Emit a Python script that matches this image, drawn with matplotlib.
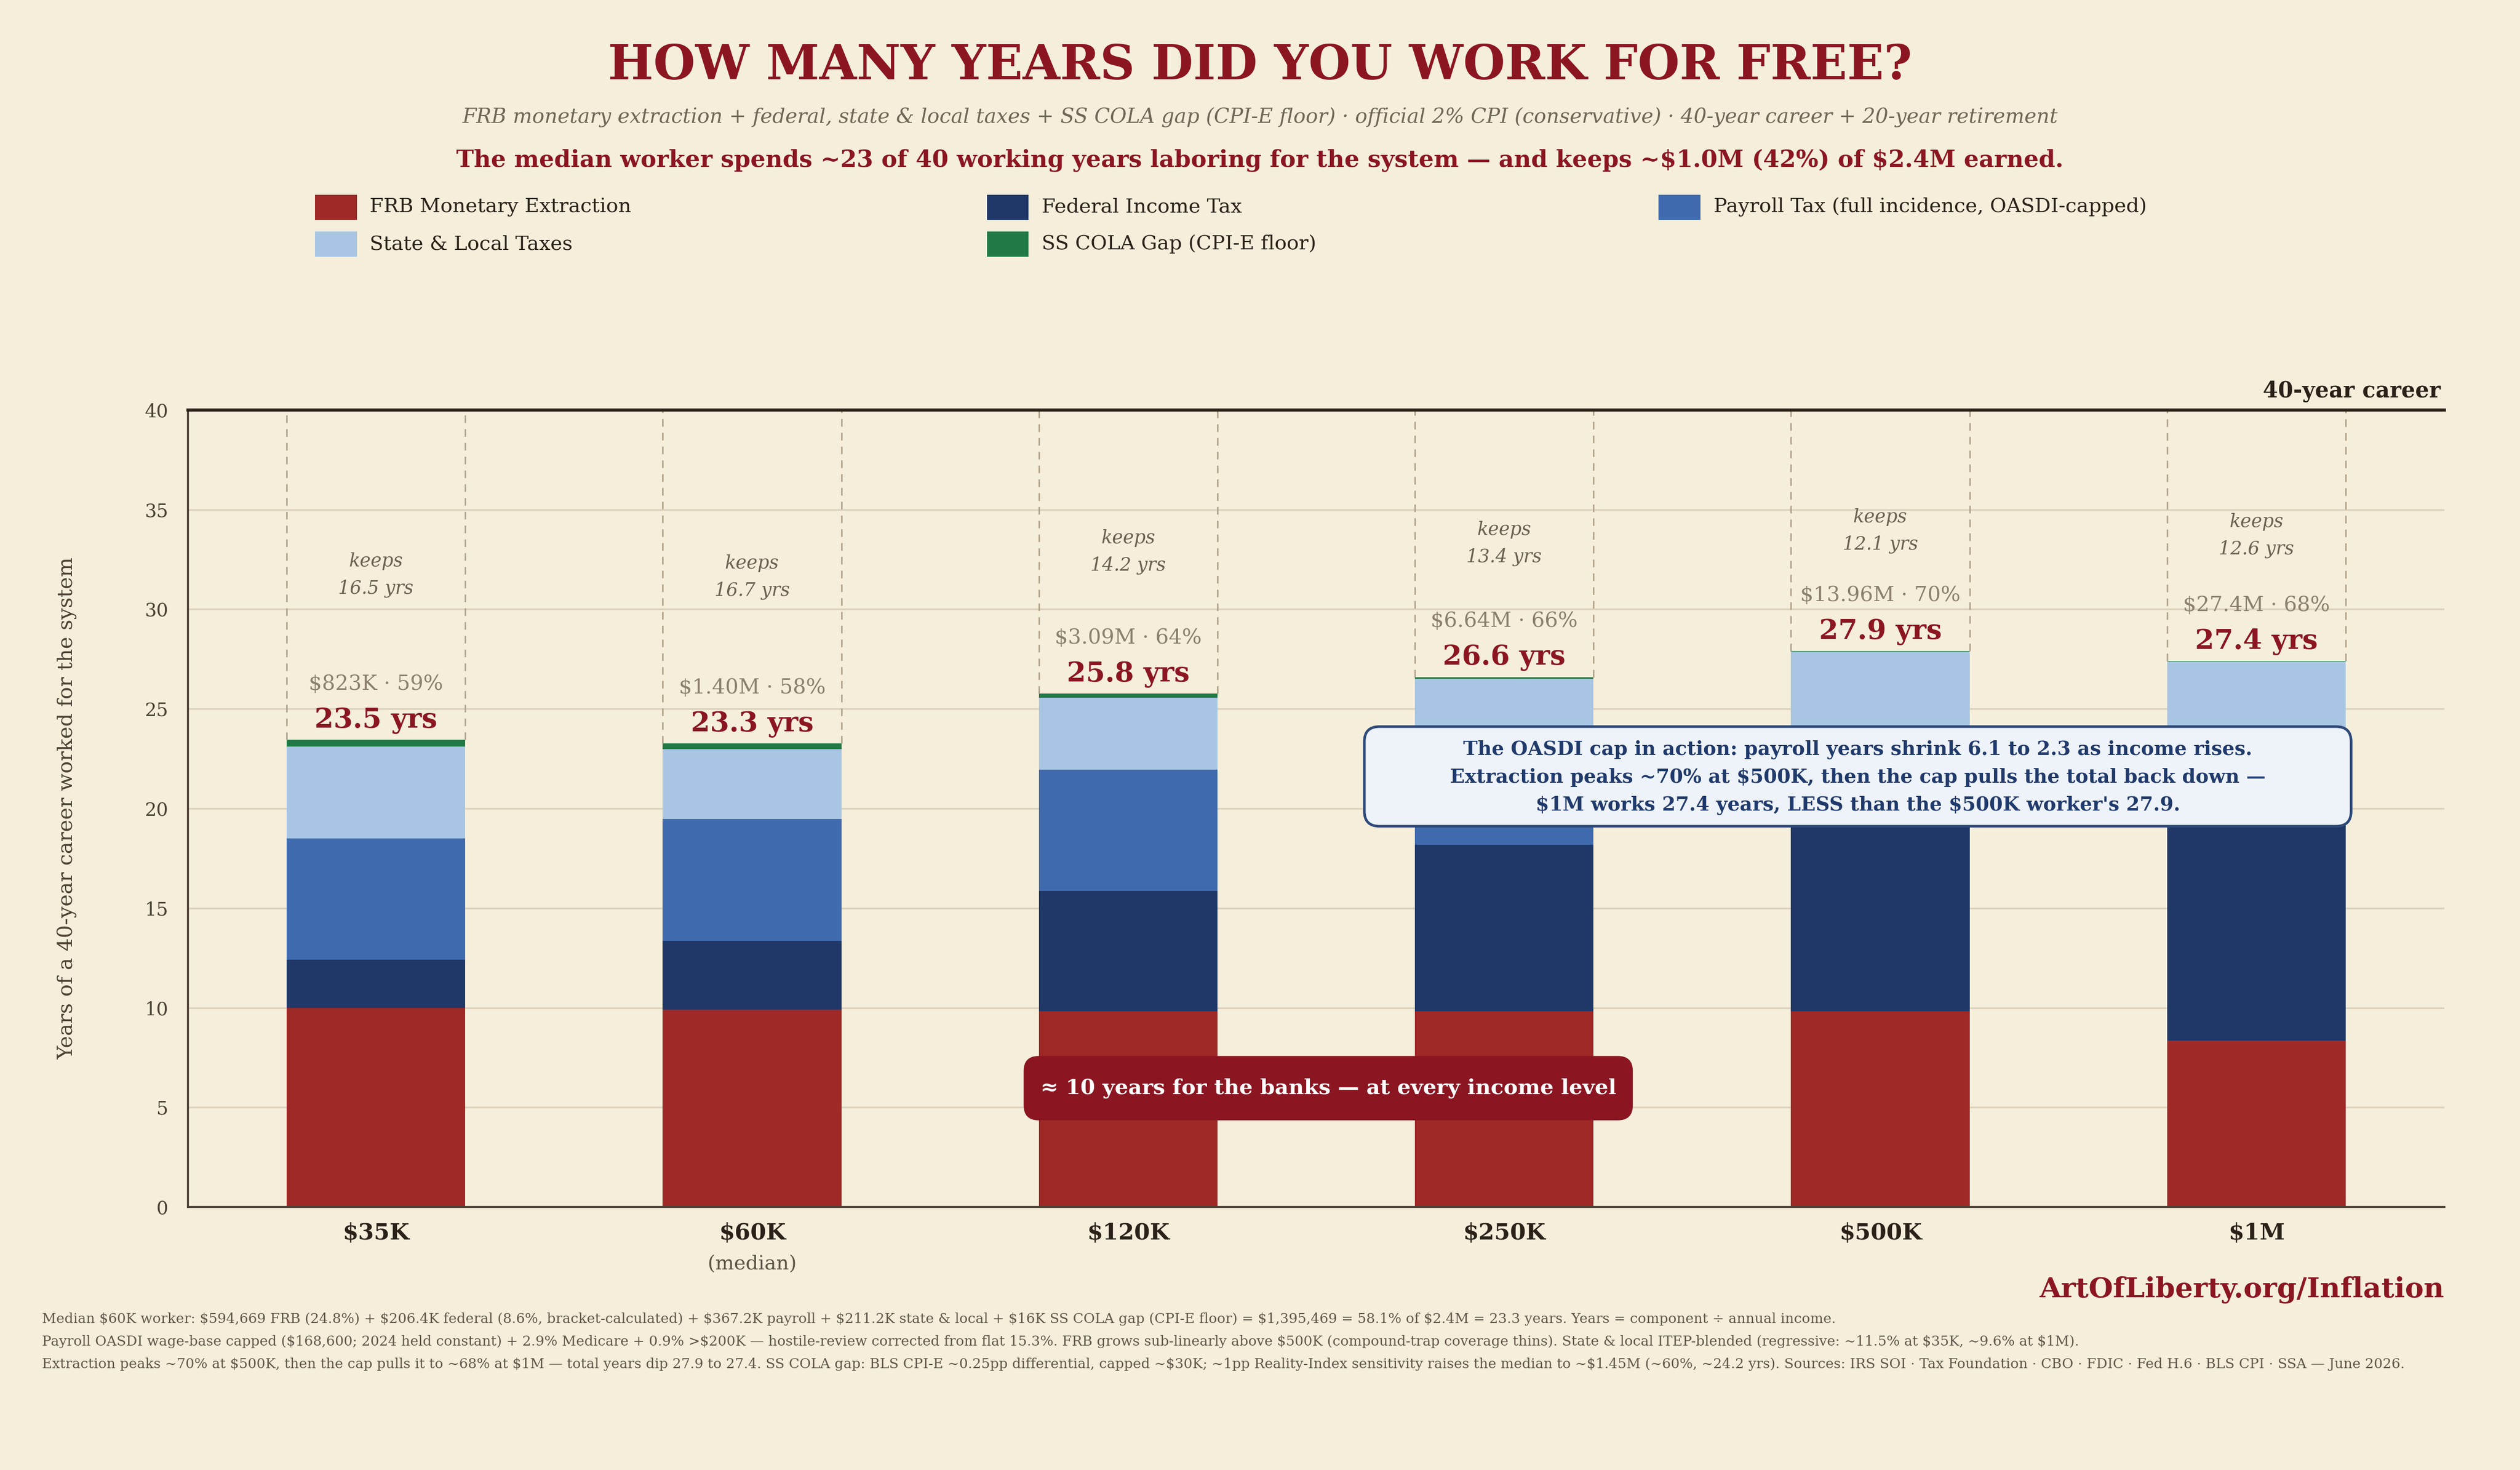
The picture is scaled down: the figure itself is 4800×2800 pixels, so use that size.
import matplotlib
matplotlib.use('Agg')
import matplotlib.pyplot as plt
from matplotlib.patches import FancyBboxPatch, Rectangle
import numpy as np

plt.rcParams['font.family'] = ['DejaVu Serif']
plt.rcParams['text.parse_math'] = False  # 文本里有很多 $ 符号

# 数据：每个收入档位的各项"年数"
incomes = ['$35K', '$60K', '$120K', '$250K', '$500K', '$1M']
frb = [10.00, 9.91, 9.83, 9.83, 9.83, 8.36]
federal = [2.40, 3.44, 6.03, 8.36, 11.10, 12.90]
payroll = [6.10, 6.12, 6.10, 4.58, 3.05, 2.28]
state_local = [4.60, 3.52, 3.60, 3.75, 3.89, 3.84]
cola_gap = [0.35, 0.27, 0.20, 0.08, 0.03, 0.02]
total_years = [23.5, 23.3, 25.8, 26.6, 27.9, 27.4]
keeps_years = [16.5, 16.7, 14.2, 13.4, 12.1, 12.6]
extracted = ['$823K · 59%', '$1.40M · 58%', '$3.09M · 64%', '$6.64M · 66%',
             '$13.96M · 70%', '$27.4M · 68%']

series_names = ['FRB Monetary Extraction', 'Federal Income Tax',
                'Payroll Tax (full incidence, OASDI-capped)', 'State & Local Taxes',
                'SS COLA Gap (CPI-E floor)']
colors = ['#9e2927', '#1f3868', '#3f6bae', '#a8c6e3', '#217a46']

bg = '#f5eedb'
dark_red = '#8b1622'
ink = '#2a2118'

fig = plt.figure(figsize=(16, 28 / 3), dpi=300, facecolor=bg)
ax = fig.add_axes([0.0746, 0.1789, 0.8954, 0.5422], facecolor=bg)

x = np.arange(len(incomes))
width = 0.475
bottom = np.zeros(len(incomes))
for vals, color in zip([frb, federal, payroll, state_local, cola_gap], colors):
    ax.bar(x, vals, width, bottom=bottom, color=color, linewidth=0, zorder=2)
    bottom = bottom + np.array(vals)

ax.set_xlim(-0.5, 5.5)
ax.set_ylim(0, 40)
ax.set_yticks(range(0, 41, 5))
ax.grid(axis='y', color='#ddd3bc', linewidth=0.8, zorder=0)
ax.set_axisbelow(True)
ax.tick_params(axis='y', length=0, pad=9, labelsize=8.5, labelcolor='#4a4033')
ax.set_xticks(x)
ax.set_xticklabels(incomes, fontsize=10.4, fontweight='bold', color=ink)
ax.tick_params(axis='x', length=0, pad=7)
for s in ['top', 'right']:
    ax.spines[s].set_visible(False)
for s in ['left', 'bottom']:
    ax.spines[s].set_color('#4a4033')
    ax.spines[s].set_linewidth(0.9)
ax.axhline(40, color=ink, linewidth=1.4, zorder=5, clip_on=False)
ax.text(5.49, 40.4, '40-year career', ha='right', va='bottom', fontsize=10,
        fontweight='bold', color=ink)
ax.text(1, -0.072, '(median)', transform=ax.get_xaxis_transform(), ha='center',
        va='center', fontsize=9, color='#5e5446')
fig.text(0.0268, 0.4503, 'Years of a 40-year career worked for the system', rotation=90,
         ha='center', va='center', fontsize=9.4, color='#4a4033')

# 柱顶标注
for i in range(len(incomes)):
    top = bottom[i]
    ax.vlines([x[i] - width / 2, x[i] + width / 2], top, 40, colors='#b3a68c',
              linestyles=(0, (5, 4)), linewidth=0.7, zorder=3)
    ax.text(x[i], top + 0.3, f'{total_years[i]:.1f} yrs', ha='center', va='bottom',
            fontsize=12.6, fontweight='bold', color=dark_red, zorder=4)
    ax.text(x[i], top + 2.3, extracted[i], ha='center', va='bottom', fontsize=9.5,
            color='#8a7f6d', zorder=4)
    ax.text(x[i], (top + 40) / 2, f'keeps\n{keeps_years[i]:.1f} yrs', ha='center',
            va='center', fontsize=8.4, style='italic', color='#6b6152', linespacing=1.65,
            zorder=4)

# 圆角注释框（按像素比例修正圆角）
px_x = fig.get_figwidth() * fig.dpi * ax.get_position().width / 6
px_y = fig.get_figheight() * fig.dpi * ax.get_position().height / 40
aspect = px_x / px_y

box1 = FancyBboxPatch((2.628, 19.11), 5.252 - 2.628, 24.11 - 19.11,
                      boxstyle='round,pad=0,rounding_size=0.04', mutation_aspect=aspect,
                      facecolor='#eef2f9', edgecolor='#2e4a7a', linewidth=1.2, zorder=6)
ax.add_patch(box1)
ax.text(3.94, 21.55,
        'The OASDI cap in action: payroll years shrink 6.1 to 2.3 as income rises.\n'
        'Extraction peaks ~70% at $500K, then the cap pulls the total back down —\n'
        "$1M works 27.4 years, LESS than the $500K worker's 27.9.",
        ha='center', va='center', fontsize=8.9, fontweight='bold', color='#1f3a6b',
        linespacing=1.6, zorder=7)

box2 = FancyBboxPatch((1.722, 4.35), 3.342 - 1.722, 7.58 - 4.35,
                      boxstyle='round,pad=0,rounding_size=0.04', mutation_aspect=aspect,
                      facecolor='#8b1622', edgecolor='none', zorder=6)
ax.add_patch(box2)
ax.text(2.532, 5.97, '≈ 10 years for the banks — at every income level', ha='center',
        va='center', fontsize=9.7, fontweight='bold', color='white', zorder=7)

# 标题
fig.text(0.5, 0.955, 'HOW MANY YEARS DID YOU WORK FOR FREE?', ha='center', va='center',
         fontsize=22, fontweight='bold', color=dark_red)
fig.text(0.5, 0.920, 'FRB monetary extraction + federal, state & local taxes + SS COLA gap '
         '(CPI-E floor) · official 2% CPI (conservative) · 40-year career + 20-year retirement',
         ha='center', va='center', fontsize=9.3, style='italic', color='#6f6656')
fig.text(0.5, 0.891, 'The median worker spends ~23 of 40 working years laboring for the '
         'system — and keeps ~$1.0M (42%) of $2.4M earned.', ha='center', va='center',
         fontsize=10.8, fontweight='bold', color=dark_red)

# 图例
legend_order = [0, 1, 2, 3, 4]
for k, idx in enumerate(legend_order):
    col, row = k % 3, k // 3
    lx = 0.125 + col * 0.2666
    ly = 0.859 - row * 0.0251
    fig.add_artist(Rectangle((lx, ly - 0.0085), 0.0166, 0.017, transform=fig.transFigure,
                             facecolor=colors[idx], edgecolor='none'))
    fig.text(lx + 0.0217, ly, series_names[idx], ha='left', va='center', fontsize=9.2,
             color=ink)

fig.text(0.970, 0.1224, 'ArtOfLiberty.org/Inflation', ha='right', va='center',
         fontsize=12.8, fontweight='bold', color=dark_red)

notes = [
    'Median $60K worker: $594,669 FRB (24.8%) + $206.4K federal (8.6%, bracket-calculated) + '
    '$367.2K payroll + $211.2K state & local + $16K SS COLA gap (CPI-E floor) = $1,395,469 = '
    '58.1% of $2.4M = 23.3 years. Years = component ÷ annual income.',
    'Payroll OASDI wage-base capped ($168,600; 2024 held constant) + 2.9% Medicare + 0.9% >$200K '
    '— hostile-review corrected from flat 15.3%. FRB grows sub-linearly above $500K '
    '(compound-trap coverage thins). State & local ITEP-blended (regressive: ~11.5% at $35K, '
    '~9.6% at $1M).',
    'Extraction peaks ~70% at $500K, then the cap pulls it to ~68% at $1M — total years dip 27.9 '
    'to 27.4. SS COLA gap: BLS CPI-E ~0.25pp differential, capped ~$30K; ~1pp Reality-Index '
    'sensitivity raises the median to ~$1.45M (~60%, ~24.2 yrs). Sources: IRS SOI · Tax '
    'Foundation · CBO · FDIC · Fed H.6 · BLS CPI · SSA — June 2026.',
]
for j, line in enumerate(notes):
    fig.text(0.0166, 0.1027 - j * 0.0153, line, ha='left', va='center', fontsize=6.35,
             color='#62574a')

fig.savefig('out.png', dpi=300, facecolor=bg)
